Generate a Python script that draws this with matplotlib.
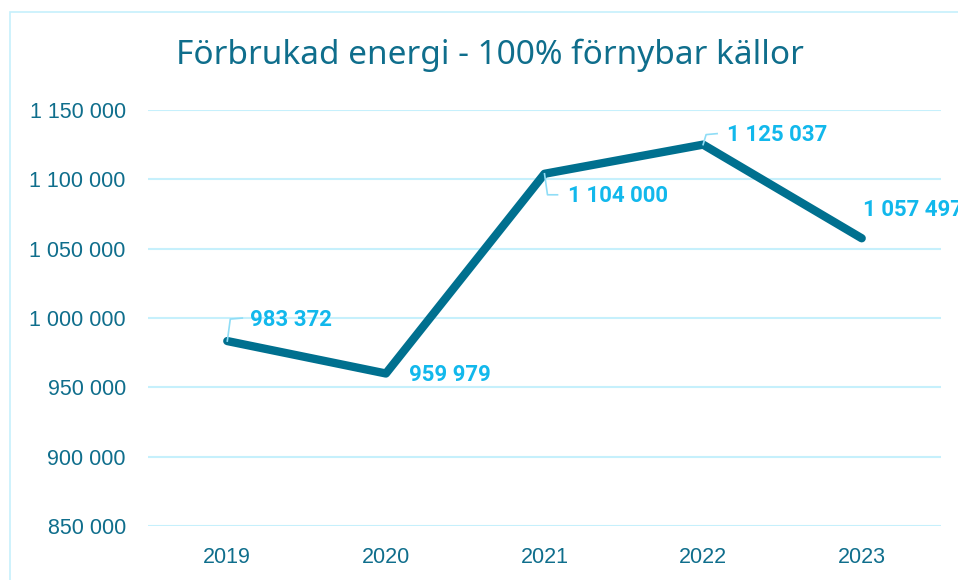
import matplotlib
matplotlib.use("Agg")
import matplotlib.pyplot as plt
from matplotlib.lines import Line2D
from matplotlib.patches import Rectangle
from matplotlib.ticker import FuncFormatter, MultipleLocator

years = ["2019", "2020", "2021", "2022", "2023"]
values = [983372, 959979, 1104000, 1125037, 1057497]
title = "Förbrukad energi - 100% förnybar källor"

LINE = "#00708F"
TEXT = "#0F6E8C"
LABEL = "#12B8EC"
GRID = "#C6F0FC"
LEADER = "#8FDDF6"

W, H = 958, 580
fig = plt.figure(figsize=(W / 100, H / 100), dpi=100)
fig.patch.set_facecolor("white")

# chart border (cropped on right/bottom)
fig.patches.append(Rectangle((10 / W, -0.2), 1.2, (H - 12) / H + 0.2,
                             transform=fig.transFigure, fill=False,
                             edgecolor=GRID, lw=1.2))

ax = fig.add_axes([148 / W, (H - 526) / H, (941 - 148) / W, (526 - 110) / H])
x = list(range(len(years)))
ax.plot(x, values, color=LINE, lw=6, solid_capstyle="round", solid_joinstyle="round", zorder=3)
ax.set_xlim(-0.5, len(years) - 0.5)
ax.set_ylim(850000, 1150000)
ax.yaxis.set_major_locator(MultipleLocator(50000))
ax.yaxis.set_major_formatter(FuncFormatter(lambda v, p: f"{int(v):,}".replace(",", " ")))
ax.set_xticks(x)
ax.set_xticklabels(years)
for s in ax.spines.values():
    s.set_visible(False)
ax.tick_params(length=0)
ax.tick_params(axis="y", pad=16, labelsize=15.5, labelcolor=TEXT)
ax.tick_params(axis="x", pad=15, labelsize=15.5, labelcolor=TEXT)
for lab in ax.get_yticklabels() + ax.get_xticklabels():
    lab.set_fontfamily("Liberation Sans")
ax.grid(axis="y", color=GRID, lw=1.5)
ax.set_axisbelow(True)
ax.set_facecolor("none")

fig.text(489.5 / W, 1 - 55 / H, title, ha="center", va="center",
         fontsize=24, color=TEXT, fontfamily="Noto Sans")

# data labels: (dx, dy) pixel offsets of label left/center; leader path offsets
label_off = [(23, 21), (23, -2), (23, -22), (24, 10), (1, 28)]
leaders = [
    [(0, 0), (3, 22), (15, 23)],
    None,
    [(0, 0), (3, -21), (13, -21)],
    [(0, 0), (3, 10), (14, 11)],
    None,
]
fig.canvas.draw()
for i, (xi, v) in enumerate(zip(x, values)):
    px, py = ax.transData.transform((xi, v))
    dx, dy = label_off[i]
    lbl = f"{v:,}".replace(",", " ")
    fig.text((px + dx) / W, (py + dy) / H, lbl, ha="left", va="center",
             fontsize=16, fontweight="bold", color=LABEL, fontfamily="Roboto")
    if leaders[i]:
        xs = [(px + a) / W for a, b in leaders[i]]
        ys = [(py + b) / H for a, b in leaders[i]]
        fig.add_artist(Line2D(xs, ys, transform=fig.transFigure, color=LEADER, lw=1.2, zorder=2))

fig.savefig("out.png", dpi=100)
